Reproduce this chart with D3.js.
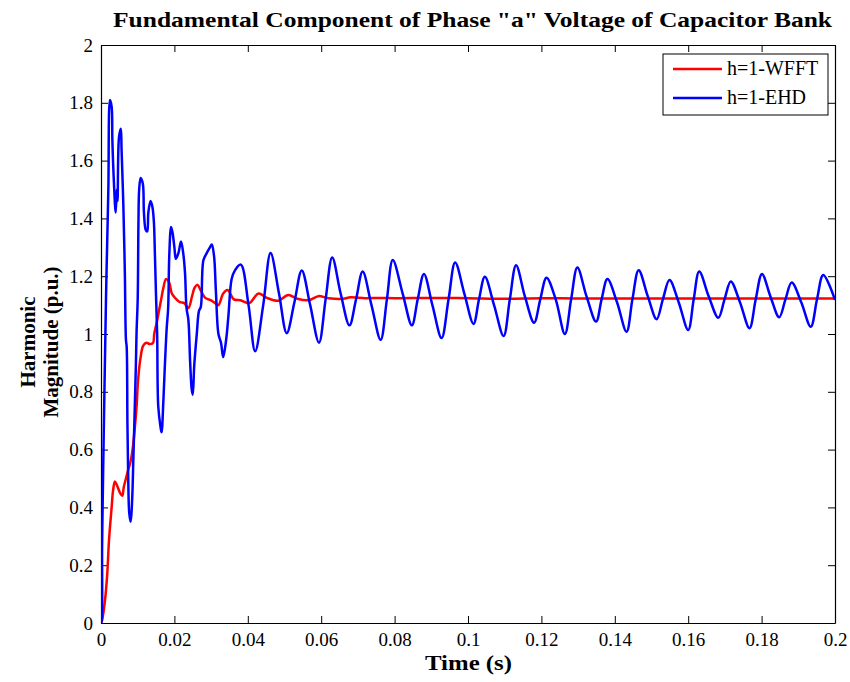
<!DOCTYPE html>
<html>
<head>
<meta charset="utf-8">
<script src="https://cdn.jsdelivr.net/npm/d3@7"></script>
<style>
  html, body { margin: 0; padding: 0; background: #fff; }
  svg { display: block; }
  text { font-family: "Liberation Serif", "DejaVu Serif", serif; }
</style>
</head>
<body>
<svg id="chart" width="850" height="682"></svg>
<script>
// ---------- data ----------
const titleText = 'Fundamental Component of Phase "a" Voltage of Capacitor Bank';
const xLabel = "Time (s)";
const yLabelLines = ["Harmonic", "Magnitude (p.u.)"];
const seriesNames = ["h=1-WFFT", "h=1-EHD"];
const seriesColors = ["#ff0000", "#0000ff"];

const xTicks = [0, 0.02, 0.04, 0.06, 0.08, 0.1, 0.12, 0.14, 0.16, 0.18, 0.2];
const xTickLabels = ["0", "0.02", "0.04", "0.06", "0.08", "0.1", "0.12", "0.14", "0.16", "0.18", "0.2"];
const yTicks = [0, 0.2, 0.4, 0.6, 0.8, 1, 1.2, 1.4, 1.6, 1.8, 2];
const yTickLabels = ["0", "0.2", "0.4", "0.6", "0.8", "1", "1.2", "1.4", "1.6", "1.8", "2"];

// h=1-WFFT (red)
const wfftT = [0, 0.0003, 0.0011, 0.0017, 0.0022, 0.0029, 0.0033, 0.0038, 0.0044, 0.0052, 0.0058, 0.0062,
  0.0069, 0.0074, 0.0079, 0.0085, 0.0091, 0.0097, 0.0101, 0.0108, 0.0115, 0.0124, 0.0133, 0.0142, 0.0145,
  0.0152, 0.0158, 0.0164, 0.0170, 0.0177, 0.0185, 0.0193, 0.0202, 0.0215, 0.0227, 0.0238, 0.0248, 0.0255,
  0.0263, 0.0272, 0.0284, 0.0297, 0.0311, 0.0320, 0.0333, 0.0345, 0.0362, 0.0380, 0.0404, 0.0429, 0.0452,
  0.0483, 0.0510, 0.0535, 0.0567, 0.0592, 0.0620, 0.0660, 0.0680, 0.0720, 0.0760, 0.0800, 0.0900, 0.1000,
  0.1100, 0.1200, 0.1300, 0.1500, 0.1700, 0.2000];
const wfftV = [0, 0.01, 0.08, 0.17, 0.29, 0.40, 0.46, 0.49, 0.475, 0.45, 0.44, 0.47,
  0.505, 0.53, 0.55, 0.59, 0.66, 0.75, 0.84, 0.92, 0.96, 0.97, 0.965, 0.97, 1.0,
  1.04, 1.08, 1.12, 1.16, 1.19, 1.18, 1.14, 1.125, 1.11, 1.107, 1.09, 1.13, 1.16,
  1.17, 1.15, 1.125, 1.118, 1.107, 1.10, 1.14, 1.152, 1.12, 1.117, 1.107, 1.14, 1.125,
  1.115, 1.135, 1.122, 1.117, 1.131, 1.124, 1.122, 1.127, 1.124, 1.125, 1.124, 1.125, 1.124,
  1.122, 1.124, 1.123, 1.123, 1.123, 1.123];

// h=1-EHD (blue)
const ehdT = [0, 0.0002, 0.0003, 0.0006, 0.00136, 0.0015, 0.002, 0.00245, 0.0029, 0.0031, 0.0035, 0.0040,
  0.0043, 0.0045, 0.0049, 0.0054, 0.0056, 0.0061, 0.0065, 0.0068, 0.0070, 0.0072, 0.0074, 0.0077, 0.0081,
  0.0085, 0.0088, 0.0095, 0.0097, 0.0100, 0.0102, 0.0104, 0.0108, 0.0114, 0.0117, 0.0122, 0.0126, 0.0129,
  0.0135, 0.0140, 0.0144, 0.0147, 0.0150, 0.0153, 0.0156, 0.0162, 0.0165, 0.0170, 0.0174, 0.0179, 0.0183,
  0.0186, 0.0191, 0.0195, 0.0200, 0.0204, 0.0211, 0.0218, 0.0224, 0.0229, 0.0233, 0.0238, 0.0243, 0.0247,
  0.0250, 0.0254, 0.0261, 0.0267, 0.0272, 0.0279, 0.0288, 0.0297, 0.0302, 0.0308, 0.0313, 0.0320, 0.0327,
  0.0333, 0.0341, 0.0347, 0.0356, 0.0365, 0.0381,
  0.0402, 0.0420, 0.0442, 0.0462, 0.0485, 0.0506, 0.0527, 0.0547, 0.0570, 0.0594, 0.0612, 0.0630,
  0.0653, 0.0677, 0.0695, 0.0713, 0.0737, 0.0762, 0.0779, 0.0795, 0.0822, 0.0847, 0.0863, 0.0880,
  0.0903, 0.0928, 0.0947, 0.0965, 0.0990, 0.1015, 0.1030, 0.1046, 0.1071, 0.1097, 0.1114, 0.1131,
  0.1155, 0.1180, 0.1197, 0.1214, 0.1239, 0.1264, 0.1281, 0.1298, 0.1323, 0.1349, 0.1364, 0.1380,
  0.1406, 0.1432, 0.1448, 0.1465, 0.1490, 0.1514, 0.1531, 0.1549, 0.1574, 0.1600, 0.1615, 0.1630,
  0.1656, 0.1682, 0.1699, 0.1716, 0.1741, 0.1767, 0.1784, 0.1801, 0.1824, 0.1848, 0.1865, 0.1882,
  0.1908, 0.1934, 0.1951, 0.1968, 0.2000];
const ehdV = [0, 0.01, 0.26, 0.54, 1.12, 1.21, 1.50, 1.81, 1.787, 1.67, 1.53, 1.42,
  1.50, 1.46, 1.68, 1.71, 1.64, 1.44, 1.21, 0.98, 0.955, 0.69, 0.52, 0.38, 0.35,
  0.43, 0.56, 0.89, 1.01, 1.12, 1.38, 1.50, 1.54, 1.52, 1.42, 1.36, 1.355, 1.42,
  1.46, 1.44, 1.39, 1.27, 1.13, 1.0, 0.75, 0.68, 0.66, 0.77, 0.89, 1.02, 1.09,
  1.27, 1.37, 1.35, 1.30, 1.26, 1.28, 1.32, 1.28, 1.21, 1.09, 1.05, 0.90, 0.81,
  0.79, 0.89, 1.0, 1.08, 1.094, 1.255, 1.28, 1.30, 1.31, 1.27, 1.15, 1.0, 0.97,
  0.92, 0.98, 1.06, 1.19, 1.22, 1.24,
  1.10, 0.94, 1.10, 1.28, 1.14, 1.003, 1.11, 1.22, 1.10, 0.97, 1.12, 1.265,
  1.14, 1.03, 1.12, 1.216, 1.10, 0.98, 1.12, 1.256, 1.14, 1.03, 1.12, 1.208,
  1.10, 0.986, 1.12, 1.247, 1.14, 1.035, 1.12, 1.198, 1.10, 0.993, 1.12, 1.238,
  1.13, 1.039, 1.12, 1.195, 1.12, 1.0, 1.12, 1.23, 1.13, 1.043, 1.12, 1.19,
  1.11, 1.008, 1.12, 1.221, 1.13, 1.051, 1.12, 1.187, 1.11, 1.014, 1.12, 1.216,
  1.13, 1.056, 1.12, 1.182, 1.11, 1.02, 1.12, 1.208, 1.13, 1.058, 1.12, 1.178,
  1.11, 1.025, 1.12, 1.204, 1.118];

// ---------- layout ----------
const plot = { left: 101, right: 835, top: 45, bottom: 623 };
const svg = d3.select("#chart");

const x = d3.scaleLinear().domain([0, 0.2]).range([plot.left, plot.right]);
const y = d3.scaleLinear().domain([0, 2]).range([plot.bottom, plot.top]);

// title
svg.append("text")
  .attr("x", 113).attr("y", 27)
  .attr("font-size", 22).attr("font-weight", "bold")
  .attr("textLength", 719).attr("lengthAdjust", "spacingAndGlyphs")
  .text(titleText);

// axes (ticks inward, labels outside)
const tickLen = 7;
const fmtX = (d, i) => xTickLabels[i];
const fmtY = (d, i) => yTickLabels[i];

const gB = svg.append("g").attr("transform", `translate(0,${plot.bottom})`)
  .call(d3.axisBottom(x).tickValues(xTicks).tickFormat(fmtX).tickSizeInner(-tickLen).tickSizeOuter(0).tickPadding(10));
const gT = svg.append("g").attr("transform", `translate(0,${plot.top})`)
  .call(d3.axisTop(x).tickValues(xTicks).tickFormat("").tickSizeInner(-tickLen).tickSizeOuter(0));
const gL = svg.append("g").attr("transform", `translate(${plot.left},0)`)
  .call(d3.axisLeft(y).tickValues(yTicks).tickFormat(fmtY).tickSizeInner(-tickLen).tickSizeOuter(0).tickPadding(8));
const gR = svg.append("g").attr("transform", `translate(${plot.right},0)`)
  .call(d3.axisRight(y).tickValues(yTicks).tickFormat("").tickSizeInner(-tickLen).tickSizeOuter(0));

[gB, gT, gL, gR].forEach(g => {
  g.selectAll("path.domain").attr("stroke", "#000").attr("stroke-width", 1.2);
  g.selectAll(".tick line").attr("stroke", "#000").attr("stroke-width", 1);
  g.selectAll(".tick text").attr("font-family", "Liberation Serif, DejaVu Serif, serif")
    .attr("font-size", 19).attr("fill", "#000");
});

// lines
const line = d3.line().x(d => x(d[0])).y(d => y(d[1])).curve(d3.curveCatmullRom.alpha(0.5));
svg.append("clipPath").attr("id", "clip").append("rect")
  .attr("x", plot.left).attr("y", plot.top).attr("width", plot.right - plot.left).attr("height", plot.bottom - plot.top);

const wfft = wfftT.map((t, i) => [t, wfftV[i]]);
const ehd = ehdT.map((t, i) => [t, ehdV[i]]);

svg.append("path").datum(wfft)
  .attr("d", line).attr("fill", "none").attr("stroke", seriesColors[0]).attr("stroke-width", 2.5)
  .attr("stroke-linejoin", "round").attr("clip-path", "url(#clip)");
svg.append("path").datum(ehd)
  .attr("d", line).attr("fill", "none").attr("stroke", seriesColors[1]).attr("stroke-width", 2.5)
  .attr("stroke-linejoin", "round").attr("clip-path", "url(#clip)");

// axis labels
svg.append("text")
  .attr("x", 425).attr("y", 670)
  .attr("font-size", 22).attr("font-weight", "bold")
  .attr("textLength", 87).attr("lengthAdjust", "spacingAndGlyphs")
  .text(xLabel);

const yl = svg.append("text")
  .attr("transform", "translate(0,342) rotate(-90)")
  .attr("text-anchor", "middle").attr("font-size", 21).attr("font-weight", "bold");
yl.selectAll("tspan").data(yLabelLines).enter().append("tspan")
  .attr("x", 0).attr("y", (d, i) => 35 + i * 23)
  .text(d => d);

// legend
const lg = svg.append("g");
lg.append("rect").attr("x", 663).attr("y", 54).attr("width", 165).attr("height", 61)
  .attr("fill", "#fff").attr("stroke", "#000").attr("stroke-width", 1);
seriesNames.forEach((name, i) => {
  const yy = 69 + i * 29;
  lg.append("line").attr("x1", 673).attr("x2", 722).attr("y1", yy).attr("y2", yy)
    .attr("stroke", seriesColors[i]).attr("stroke-width", 2.5);
  lg.append("text").attr("x", 727).attr("y", yy + 6).attr("font-size", 20).text(name);
});
</script>
</body>
</html>
